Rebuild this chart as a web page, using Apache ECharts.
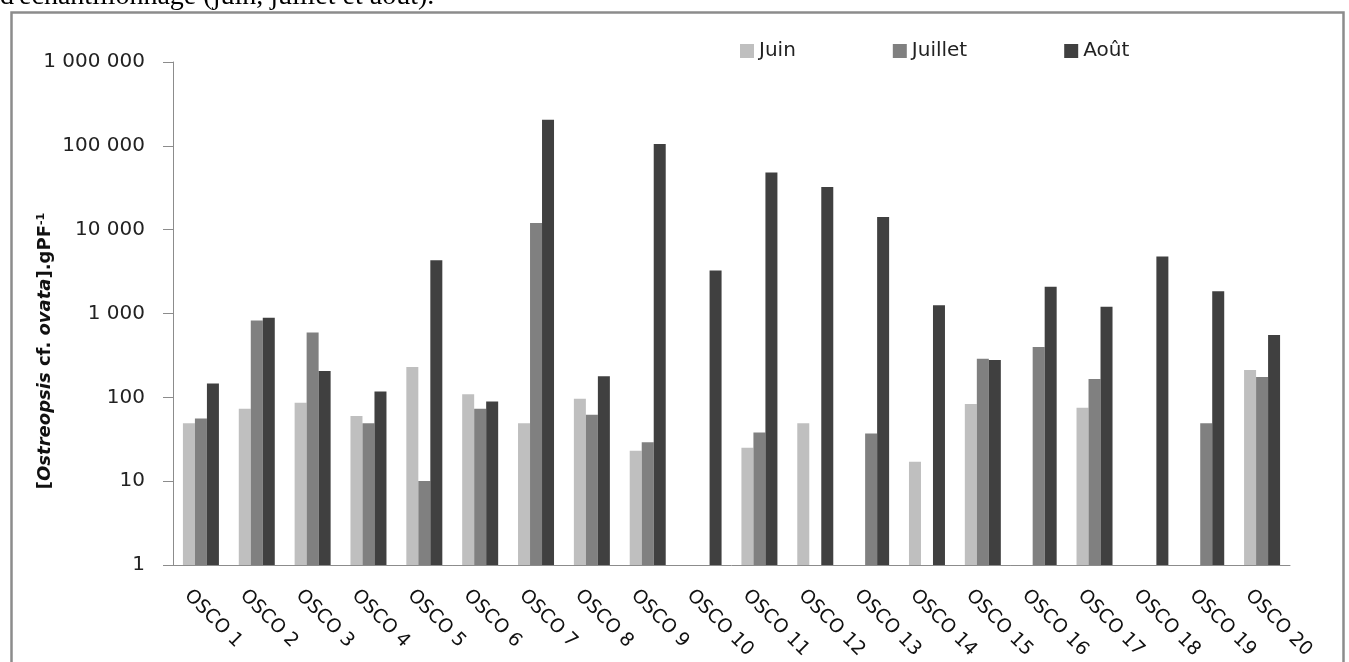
<!DOCTYPE html>
<html>
<head>
<meta charset="utf-8">
<script src="https://cdn.jsdelivr.net/npm/echarts@6/dist/echarts.min.js"></script>
<style>
  html, body { margin: 0; padding: 0; background: #fff; }
  #chart { width: 1349px; height: 662px; }
</style>
</head>
<body>
<div id="chart"></div>
<script>
const categories = ['OSCO 1', 'OSCO 2', 'OSCO 3', 'OSCO 4', 'OSCO 5', 'OSCO 6', 'OSCO 7', 'OSCO 8', 'OSCO 9', 'OSCO 10',
  'OSCO 11', 'OSCO 12', 'OSCO 13', 'OSCO 14', 'OSCO 15', 'OSCO 16', 'OSCO 17', 'OSCO 18', 'OSCO 19', 'OSCO 20'];
const seriesNames = ['Juin', 'Juillet', 'Août'];
const juin = [49, 73, 86, 60, 230, 109, 49, 96, 23, null, 25, 49, null, 17, 83, null, 75, null, null, 211];
const juillet = [56, 826, 594, 49, 10, 73, 12000, 62, 29, null, 38, null, 37, null, 289, 397, 165, null, 49, 175];
const aout = [146, 888, 206, 117, 4300, 89, 204000, 178, 105000, 3250, 48200, 32200, 14200, 1256, 278, 2077, 1200, 4770, 1845, 552];
const yMin = 1, yMax = 1000000;

const font = 'DejaVu Sans';
const chart = echarts.init(document.getElementById('chart'));

// espace comme séparateur de milliers : 1 000 000
function fmt(v) {
  return String(Math.round(v)).replace(/\B(?=(\d{3})+(?!\d))/g, ' ');
}

const barStyle = (color) => ({
  type: 'bar',
  barWidth: 12,
  barGap: '0%',
  itemStyle: { color: color }
});

chart.setOption({
  animation: false,
  color: ['#bfbfbf', '#808080', '#404040'],
  grid: { left: 173, right: 59, top: 62, bottom: 96 },
  legend: {
    left: 735,
    top: 36,
    icon: 'rect',
    itemWidth: 14,
    itemHeight: 14,
    itemGap: 97,
    textStyle: { fontFamily: font, fontSize: 20, color: '#222' },
    data: seriesNames
  },
  xAxis: {
    type: 'category',
    data: categories,
    axisLine: { lineStyle: { color: '#8c8c8c', width: 1 } },
    axisTick: { length: 7, lineStyle: { color: '#8c8c8c' } },
    axisLabel: {
      rotate: -45,
      margin: 14,
      interval: 0,
      verticalAlign: 'top',
      padding: [10, 0, 0, 0],
      fontFamily: font,
      fontSize: 19,
      color: '#111'
    }
  },
  yAxis: {
    type: 'log',
    logBase: 10,
    min: yMin,
    max: yMax,
    axisLine: { show: true, lineStyle: { color: '#8c8c8c', width: 1 } },
    axisTick: { show: true, length: 10, lineStyle: { color: '#8c8c8c' } },
    splitLine: { show: false },
    axisLabel: {
      margin: 28,
      fontFamily: font,
      fontSize: 20,
      color: '#222',
      formatter: fmt
    }
  },
  series: [
    Object.assign(barStyle('#bfbfbf'), { name: seriesNames[0], data: juin }),
    Object.assign(barStyle('#808080'), { name: seriesNames[1], data: juillet }),
    Object.assign(barStyle('#404040'), { name: seriesNames[2], data: aout })
  ],
  graphic: [
    {
      type: 'rect',
      shape: { x: 11.5, y: 12.5, width: 1332, height: 700 },
      style: { fill: 'none', stroke: '#8c8c8c', lineWidth: 2.5 },
      silent: true
    },
    {
      type: 'text',
      x: 0,
      y: 11,
      style: {
        text: "d'échantillonnage (juin, juillet et août).",
        font: '28px "Liberation Serif"',
        fill: '#000',
        textVerticalAlign: 'bottom'
      }
    },
    {
      type: 'text',
      x: 45,
      y: 351,
      rotation: Math.PI / 2,
      style: {
        text: '{b|[}{i|Ostreopsis}{b| cf. }{i|ovata}{b|].gPF}{s|-1}',
        align: 'center',
        verticalAlign: 'middle',
        fill: '#111',
        rich: {
          b: { fontFamily: font, fontSize: 18, fontWeight: 'bold', fill: '#111' },
          i: { fontFamily: font, fontSize: 18, fontWeight: 'bold', fontStyle: 'italic', fill: '#111' },
          s: { fontFamily: font, fontSize: 11, fontWeight: 'bold', fill: '#111', verticalAlign: 'top' }
        }
      }
    }
  ]
});
</script>
</body>
</html>
